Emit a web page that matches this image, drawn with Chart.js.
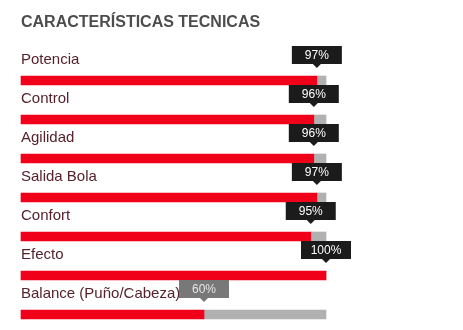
<!DOCTYPE html>
<html>
<head>
<meta charset="utf-8">
<script src="https://cdn.jsdelivr.net/npm/chart.js@4"></script>
<style>
  html, body { margin: 0; padding: 0; background: #fff; }
  canvas { display: block; }
</style>
</head>
<body>
<canvas id="specsChart" width="463" height="330"></canvas>
<script>
const categories = ['Potencia', 'Control', 'Agilidad', 'Salida Bola', 'Confort', 'Efecto', 'Balance (Puño/Cabeza)'];
const values = [97, 96, 96, 97, 95, 100, 60];
const tagLabels = ['97%', '96%', '96%', '97%', '95%', '100%', '60%'];

// gray part of each track, up to 100
const remainder = values.map(v => 100 - v);

const FONT = '"Liberation Sans", Arial, Helvetica, sans-serif';

// category names above the bars and the little value tags
const barLabels = {
  id: 'barLabels',
  afterDatasetsDraw(chart) {
    const ctx = chart.ctx;
    const left = chart.chartArea.left;
    const bars = chart.getDatasetMeta(0).data;
    ctx.save();
    ctx.font = '15px ' + FONT;
    ctx.fillStyle = '#55222e';
    ctx.textAlign = 'left';
    ctx.textBaseline = 'alphabetic';
    bars.forEach((bar, i) => {
      ctx.fillText(categories[i], left, bar.y - 16.5);
    });

    ctx.font = '12px ' + FONT;
    ctx.textAlign = 'center';
    ctx.textBaseline = 'middle';
    bars.forEach((bar, i) => {
      const x = bar.x;
      const top = bar.y - 34.5;
      const bottom = bar.y - 16.5;
      const muted = values[i] < 70;
      ctx.fillStyle = muted ? '#787878' : '#1b1b1b';
      ctx.fillRect(x - 25, top, 50, bottom - top);
      ctx.beginPath();
      ctx.moveTo(x - 4, bottom);
      ctx.lineTo(x + 4, bottom);
      ctx.lineTo(x, bottom + 4);
      ctx.closePath();
      ctx.fill();
      ctx.fillStyle = muted ? '#e6e6e6' : '#ffffff';
      ctx.fillText(tagLabels[i], x, (top + bottom) / 2 + 1);
    });
    ctx.restore();
  }
};

new Chart(document.getElementById('specsChart'), {
  type: 'bar',
  data: {
    labels: categories,
    datasets: [{
      data: values,
      backgroundColor: '#f10019',
      barThickness: 9,
      borderSkipped: false,
      clip: false
    }, {
      data: remainder,
      backgroundColor: '#b2b1b1',
      barThickness: 9,
      clip: false
    }]
  },
  options: {
    indexAxis: 'y',
    responsive: false,
    animation: false,
    layout: {
      padding: { left: 21, right: 137, top: 0, bottom: 15.5 }
    },
    scales: {
      x: { stacked: true, min: 0, max: 100, display: false },
      y: { stacked: true, offset: false, display: false }
    },
    plugins: {
      legend: { display: false },
      tooltip: { enabled: false },
      title: {
        display: true,
        text: 'CARACTERÍSTICAS TECNICAS',
        align: 'start',
        color: '#4d4d4d',
        font: { family: FONT, size: 16, weight: 'bold', lineHeight: 1.2 },
        padding: { top: 13.4, bottom: 47.9 }
      }
    }
  },
  plugins: [barLabels]
});
</script>
</body>
</html>
